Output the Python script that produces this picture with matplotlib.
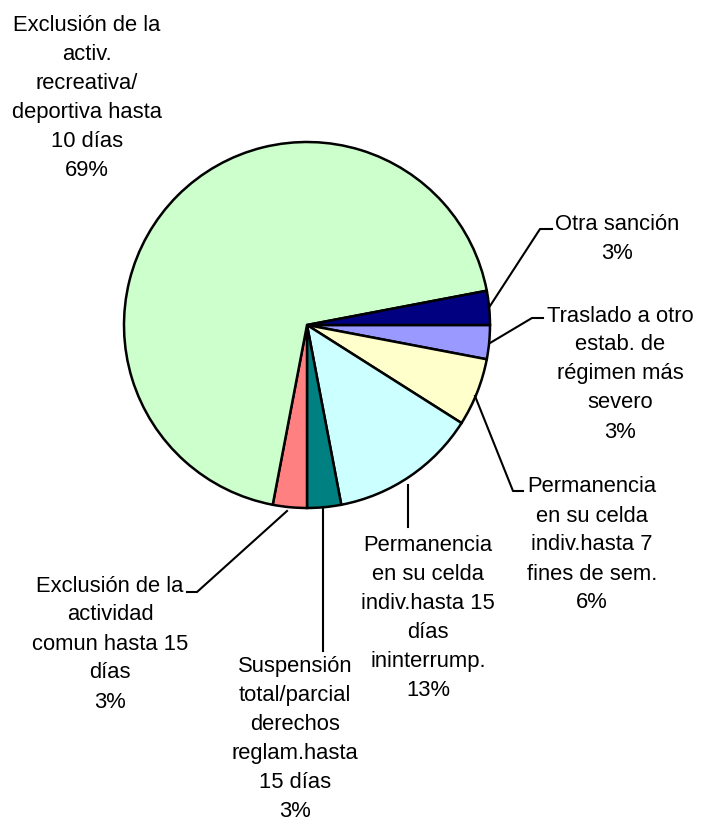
import matplotlib.pyplot as plt

# Slices clockwise from 3 o'clock
labels = ["Traslado a otro\nestab. de\nrégimen más\nsevero",
          "Permanencia\nen su celda\nindiv.hasta 7\nfines de sem.",
          "Permanencia\nen su celda\nindiv.hasta 15\ndías\nininterrump.",
          "Suspensión\ntotal/parcial\nderechos\nreglam.hasta\n15 días",
          "Exclusión de la\nactividad\ncomun hasta 15\ndías",
          "Exclusión de la\nactiv.\nrecreativa/\ndeportiva hasta\n10 días",
          "Otra sanción"]
values = [3, 6, 13, 3, 3, 69, 3]
colors = ["#9999FF", "#FFFFCC", "#CCFFFF", "#008080", "#FF8080", "#CCFFCC", "#000080"]

# label placement in pixels (center of text block), leader line points
label_pos = [(620, 374), (592, 545), (428, 618), (295, 739), (110, 644), (87, 98), (617, 239)]
leaders = [[(490, 344), (532, 319), (543, 319)],
           [(475, 397), (513, 492), (523, 492)],
           [(408, 486), (408, 528)],
           [(323, 508), (323, 652)],
           [(287, 512), (197, 593), (187, 593)],
           None,
           [(490, 307), (540, 230), (552, 230)]]

W, H = 705, 837
plt.rcParams['font.family'] = ['Liberation Sans Narrow', 'Liberation Sans', 'DejaVu Sans']

fig = plt.figure(figsize=(W / 100, H / 100), dpi=100)
ax = fig.add_axes([0, 0, 1, 1])
ax.set_xlim(0, W)
ax.set_ylim(0, H)
ax.set_aspect('equal')
ax.axis('off')

cx, cy, r = 307, 326, 183
ax.pie(values, colors=colors, startangle=0, counterclock=False,
       center=(cx, H - cy), radius=r,
       wedgeprops={'edgecolor': 'black', 'linewidth': 1.8})

total = sum(values)
for lab, v, (x, y), pts in zip(labels, values, label_pos, leaders):
    txt = f"{lab}\n{round(100 * v / total)}%"
    ax.text(x, H - y, txt, ha='center', va='center', fontsize=15.8,
            linespacing=1.5, color='black')
    if pts:
        ax.plot([p[0] for p in pts], [H - p[1] for p in pts], color='black', lw=1.5)

ax.set_xlim(0, W)
ax.set_ylim(0, H)
fig.savefig("out.png", dpi=100)
